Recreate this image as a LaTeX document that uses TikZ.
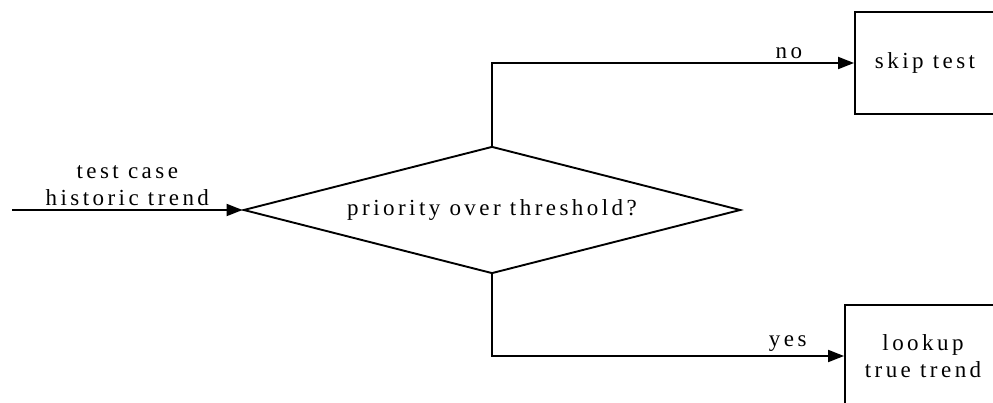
\documentclass[tikz,border=0pt]{standalone}
\usepackage{fontspec}
\setmainfont{Liberation Serif}[LetterSpace=15]
\usetikzlibrary{shapes.geometric,arrows.meta}

\begin{document}
\begin{tikzpicture}[x=1pt,y=-1pt,line width=1.9pt,
		font=\fontsize{23}{27}\selectfont,
		box/.style={draw,rectangle,minimum width=#1,minimum height=102pt,align=center},
		flow/.style={-{Triangle[length=16pt,width=12pt]}}]
		\useasboundingbox (0,0) rectangle (993,403);
		\clip (0,0) rectangle (993,403);
		\coordinate (in) at (12,210);
		\node[draw,diamond,aspect=3.9,minimum width=497pt,minimum height=127pt,inner sep=0pt] (check) at (492,210) {priority over threshold?};
		\node[box=140pt] (skip) at (925,63) {skip test};
		\node[box=156pt] (lookup) at (923,356) {lookup\\true trend};
		\draw[flow] (in) -- node[above,align=center]{test case\\historic trend} (check.west);
		\draw[flow] (check.north) |- node[pos=0.91,above]{no} (skip.west);
		\draw[flow] (check.south) |- node[pos=0.92,above]{yes} (lookup.west);
	\end{tikzpicture}
\end{document}
